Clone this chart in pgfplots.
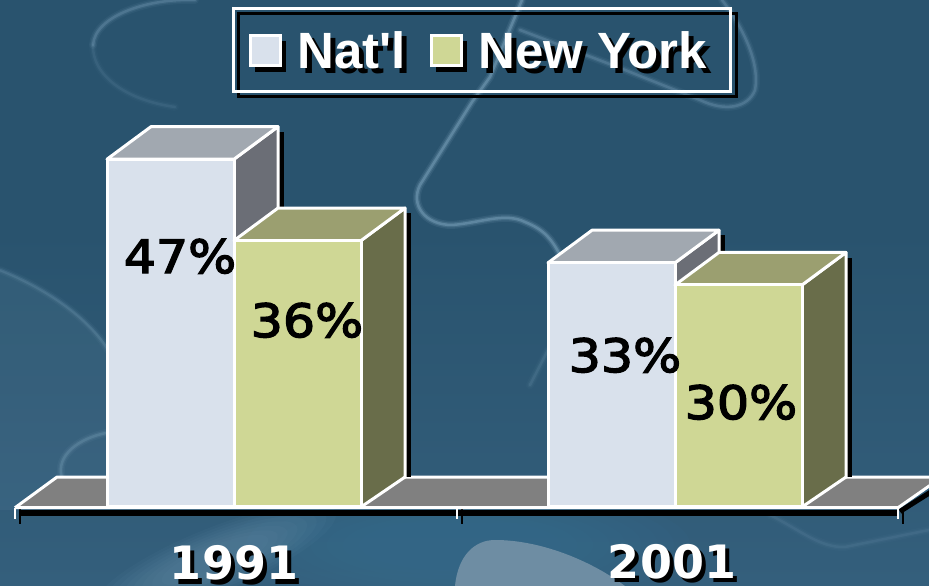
\documentclass[border=0pt]{standalone}
\usepackage{pgfplots}
\pgfplotsset{compat=1.18}
\usepackage{fontspec}
\setmainfont{Liberation Sans}
\newfontfamily\legfont{Liberation Sans}
\newfontfamily\numfont{DejaVu Sans}
\newfontfamily\valfont[FakeStretch=1.1,FakeBold=3]{DejaVu Sans}
\definecolor{bgtop}{HTML}{29536E}
\definecolor{bgbot}{HTML}{345F7C}
\definecolor{glowc}{HTML}{7FA6BF}
\definecolor{blob}{HTML}{6E8DA3}
\definecolor{teal}{HTML}{356C8C}
\definecolor{frontA}{HTML}{D9E1EC}
\definecolor{topA}{HTML}{A1A8B0}
\definecolor{sideA}{HTML}{6B6E76}
\definecolor{frontB}{HTML}{CFD795}
\definecolor{topB}{HTML}{9B9F70}
\definecolor{sideB}{HTML}{696D4A}
\definecolor{floorc}{HTML}{808080}
% soft light line of the backdrop
\newcommand{\glow}[2][1]{%
  \draw[glowc,line width=8pt,opacity=.08*#1,line cap=round] #2;
  \draw[glowc,line width=5pt,opacity=.14*#1,line cap=round] #2;
  \draw[glowc,line width=2.5pt,opacity=.28*#1,line cap=round] #2;
}
% one 3d column: x0, x1, value, front, top, side
\newcommand{\column}[6]{%
  \pgfmathsetmacro\xb{#2+44}
  \pgfmathsetmacro\xs{#2+50}
  \pgfmathsetmacro\xc{#1+44}
  \pgfmathsetmacro\vb{#3+4.4}
  \pgfmathsetmacro\vs{#3+3.7}
  \addplot[fill=black,draw=none] coordinates {(\xb,\vs) (\xs,\vs) (\xs,4.05) (\xb,4.05)} -- cycle;
  \addplot[fill=#6,draw=white,line width=3pt,line join=round] coordinates {(#2,0) (\xb,4.05) (\xb,\vb) (#2,#3)} -- cycle;
  \addplot[fill=#5,draw=white,line width=3pt,line join=round] coordinates {(#1,#3) (\xc,\vb) (\xb,\vb) (#2,#3)} -- cycle;
  \addplot[fill=#4,draw=white,line width=3pt,line join=round] coordinates {(#1,0) (#2,0) (#2,#3) (#1,#3)} -- cycle;
}
\newcommand{\shadowtext}[3]{% x, y in axis units, text
  \node[black,anchor=base,inner sep=0pt] at (axis cs:#1+4,#2-0.55) {#3};
  \node[white,anchor=base,inner sep=0pt] at (axis cs:#1,#2) {#3};
}
\begin{document}
\begin{tikzpicture}
\useasboundingbox (0,0) rectangle (929pt,586pt);
\clip (0,0) rectangle (929pt,586pt);

% backdrop, in pixel units of the picture
\begin{scope}[x=1pt,y=-1pt,shift={(0,586pt)}]
  \fill[bgtop] (0,0) rectangle (929,586);
  \shade[top color=bgtop,bottom color=bgbot] (0,230) rectangle (929,586);
  \fill[glowc,opacity=.10] (0,270) .. controls (50,290) and (90,320) .. (110,350) -- (110,510) -- (0,510) -- cycle;
  % soft patches below the floor, built up in layers
  \foreach \s in {1,.93,.86,.79,.72,.65,.58,.51,.44,.37}
    \fill[teal,opacity=.13] (460,545) ellipse ({\s*230} and {\s*60});
  \foreach \s in {1,.92,.84,.76,.68,.6,.52,.44}
    \fill[glowc,opacity=.05,rotate around={22:(215,560)}] (215,560) ellipse ({\s*130} and {\s*32});
  \fill[blob] (455,586) .. controls (458,555) and (475,540) .. (495,540) .. controls (540,540) and (590,560) .. (625,586) -- cycle;
  \glow{(195,0) .. controls (150,-2) and (95,15) .. (93,45)}
  \glow[.4]{(93,45) .. controls (92,75) and (125,100) .. (175,107)}
  \glow[1.6]{(522,0) -- (490,77) -- (472,102) -- (420,185) .. controls (410,205) and (425,225) .. (452,225) .. controls (480,223) and (505,212) .. (525,222) .. controls (545,230) and (552,240) .. (560,255)}
  \glow{(520,30) -- (620,68) -- (700,100) .. controls (725,112) and (748,108) .. (755,90) .. controls (760,65) and (745,30) .. (722,0)}
  \glow[.7]{(0,270) .. controls (50,290) and (90,320) .. (108,350)}
  \glow[.9]{(106,433) .. controls (80,438) and (55,455) .. (62,478)}
  \glow[.5]{(530,385) -- (548,350)}
  \glow[.4]{(770,515) .. controls (800,530) and (820,548) .. (845,547) -- (929,530)}
\end{scope}

\begin{axis}[
  at={(0pt,0pt)},anchor=south west,
  scale only axis,width=929pt,height=586pt,
  xmin=0,xmax=929,ymin=-10.676,ymax=68.514,
  hide axis]

% floor
\addplot[fill=floorc,draw=none] coordinates {(15,-0.1) (57,4.05) (942,4.05) (898,-0.1)} -- cycle;
\addplot[white,line width=3pt,line join=round] coordinates {(15,-0.1) (57,4.05) (942,4.05)};
% axis line and ticks, with their shadows
\addplot[black,line width=6pt] coordinates {(20,-0.75) (898,-0.75)};
\addplot[black,line width=5pt] coordinates {(900,-0.6) (947,3.4)};
\addplot[black,line width=2.5pt] coordinates {(20,0) (20,-2.3)};
\addplot[black,line width=2.5pt] coordinates {(462,0) (462,-2.3)};
\addplot[black,line width=2.5pt] coordinates {(903,0) (903,-2.3)};
\addplot[white,line width=3pt] coordinates {(15,-0.1) (898,-0.1) (942,4.05)};
\addplot[white,line width=2.5pt] coordinates {(15,-0.1) (15,-1.6)};
\addplot[white,line width=2.5pt] coordinates {(457,-0.1) (457,-1.6)};
\addplot[white,line width=2.5pt] coordinates {(898,-0.1) (898,-1.6)};

% columns: Nat'l and New York
\column{107}{234}{47}{frontA}{topA}{sideA}
\column{234}{361}{36}{frontB}{topB}{sideB}
\column{548}{675}{33}{frontA}{topA}{sideA}
\column{675}{802}{30}{frontB}{topB}{sideB}

% value labels
\begin{scope}[font=\valfont\fontsize{46}{50}\selectfont]
\node[black,anchor=base,inner sep=0pt] at (axis cs:180,31.62) {47\%};
\node[black,anchor=base,inner sep=0pt] at (axis cs:307,22.97) {36\%};
\node[black,anchor=base,inner sep=0pt] at (axis cs:625,18.24) {33\%};
\node[black,anchor=base,inner sep=0pt] at (axis cs:741,11.89) {30\%};
\end{scope}

% category labels
\begin{scope}[font=\numfont\bfseries\fontsize{46}{50}\selectfont]
\shadowtext{234}{-9.86}{1991}
\shadowtext{672}{-9.6}{2001}
\end{scope}
\end{axis}

% legend
\begin{scope}[x=1pt,y=-1pt,shift={(0,586pt)}]
  \draw[black,line width=3pt] (238,14) rectangle (736,97);
  \draw[white,line width=3pt] (233,9) rectangle (730,92);
  \fill[black] (255,41) rectangle (286,72);
  \draw[white,line width=3pt,fill=frontA] (250,36) rectangle (280,66);
  \fill[black] (436,41) rectangle (467,72);
  \draw[white,line width=3pt,fill=frontB] (431,36) rectangle (461,66);
  \begin{scope}[font=\legfont\bfseries\fontsize{51}{54}\selectfont]
    \node[black,anchor=base west,inner sep=0pt] at (302,74) {Nat'l};
    \node[white,anchor=base west,inner sep=0pt] at (297,69) {Nat'l};
    \node[black,anchor=base west,inner sep=0pt] at (483,74) {New York};
    \node[white,anchor=base west,inner sep=0pt] at (478,69) {New York};
  \end{scope}
\end{scope}
\end{tikzpicture}
\end{document}
